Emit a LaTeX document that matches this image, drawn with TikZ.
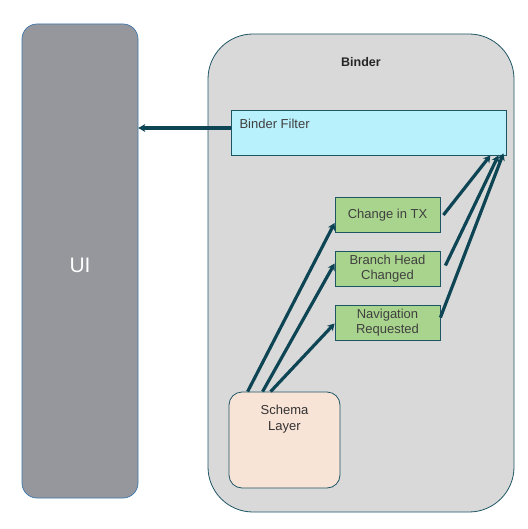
\documentclass[tikz,border=0pt]{standalone}
\usepackage{fontspec}
\setmainfont{Liberation Sans}
\usetikzlibrary{calc,arrows.meta}
\definecolor{uigray}{HTML}{96979C}
\definecolor{uiline}{HTML}{3C78AC}
\definecolor{binderbg}{HTML}{D9D9D9}
\definecolor{tealline}{HTML}{1E5565}
\definecolor{arrowteal}{HTML}{0E4554}
\definecolor{filtercyan}{HTML}{B8F0FB}
\definecolor{eventgreen}{HTML}{A9D48D}
\definecolor{schemapeach}{HTML}{F8E3D7}
\definecolor{txtgray}{HTML}{404040}

\begin{document}
\begin{tikzpicture}[x=1pt,y=-1pt,
  event/.style={draw=tealline,fill=eventgreen,line width=0.8pt,minimum width=105pt,
    minimum height=35pt,align=center,text=txtgray,font=\fontsize{13}{15.5}\selectfont,inner sep=1pt},
  flow/.style={draw=arrowteal,line width=3.2pt,-{Stealth[length=7pt,width=8pt]}}]
  \useasboundingbox (0,0) rectangle (527,529);
  % UI column
  \node[draw=uiline,fill=uigray,rounded corners=15pt,line width=0.7pt,
    minimum width=116pt,minimum height=474pt] (ui) at (80,261) {};
  \node[text=white,font=\fontsize{21}{24}\selectfont] at (80,265) {UI};
  % Binder container
  \node[draw=tealline,fill=binderbg,rounded corners=45pt,line width=0.8pt,
    minimum width=306pt,minimum height=478pt] (binder) at (361,273) {};
  \node[font=\bfseries\fontsize{12.5}{14}\selectfont,text=black!85] at (361,62) {Binder};
  % Filter
  \node[draw=tealline,fill=filtercyan,line width=0.8pt,minimum width=275pt,
    minimum height=45pt] (filter) at (368.5,132.5) {};
  \node[anchor=west,text=txtgray,font=\fontsize{13}{15}\selectfont] at (236,123.5) {Binder Filter};
  % Events
  \node[event] (change) at (387.5,215) {Change in TX};
  \node[event] (branch) at (387.5,268.5) {Branch Head\\Changed};
  \node[event] (nav) at (387.5,322.5) {Navigation\\Requested};
  % Schema layer
  \node[draw=tealline,fill=schemapeach,rounded corners=13pt,line width=0.8pt,
    minimum width=111pt,minimum height=96pt] (schema) at (284.5,440) {};
  \node[align=center,text=black!80,font=\fontsize{13}{16.5}\selectfont] at (284.5,419) {Schema\\Layer};
  % Arrows
  \draw[flow] (filter.west |- 0,128) -- (ui.east |- 0,128);
  \draw[flow] ([xshift=19pt]schema.north west) -- ([yshift=-8pt]change.west);
  \draw[flow] ([xshift=34pt]schema.north west) -- ([yshift=5pt]branch.west);
  \draw[flow] ([xshift=42pt]schema.north west) -- ([yshift=-1pt]nav.west);
  \draw[flow] ([xshift=3pt]change.east) -- ([xshift=-16pt]filter.south east);
  \draw[flow] ([xshift=5pt,yshift=3pt]branch.east) -- ([xshift=-8pt]filter.south east);
  \draw[flow] ([yshift=5pt]nav.east) -- ([xshift=-3pt,yshift=2pt]filter.south east);
\end{tikzpicture}
\end{document}
